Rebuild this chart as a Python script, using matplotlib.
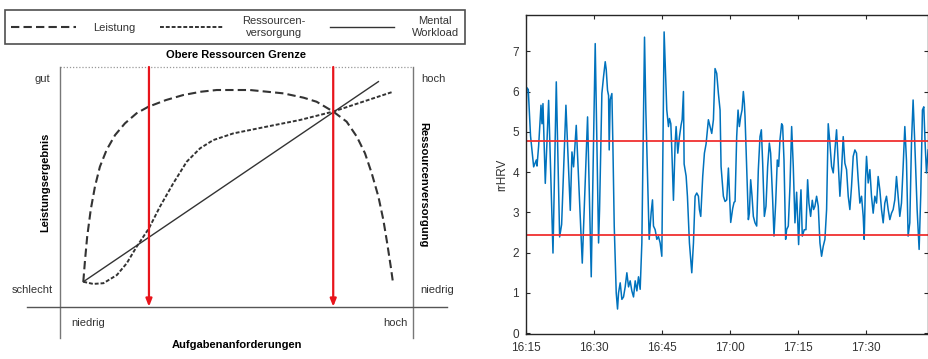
import matplotlib
matplotlib.use("Agg")
import matplotlib.pyplot as plt

plt.rcParams['font.family'] = ['Liberation Sans', 'DejaVu Sans']

# ---------------- left diagram data (normalised: demand 0..1, level 0..1) -------------
leistung_x = [0.066, 0.071, 0.077, 0.087, 0.099, 0.113, 0.132, 0.156, 0.184, 0.217, 0.250,
              0.300, 0.349, 0.400, 0.444, 0.538, 0.633, 0.690, 0.727, 0.774, 0.812, 0.841,
              0.864, 0.883, 0.902, 0.916, 0.927, 0.937, 0.943]
leistung_y = [0.104, 0.196, 0.292, 0.404, 0.501, 0.584, 0.654, 0.716, 0.765, 0.807, 0.834,
              0.862, 0.883, 0.897, 0.904, 0.904, 0.890, 0.872, 0.855, 0.814, 0.772, 0.709,
              0.640, 0.557, 0.459, 0.362, 0.264, 0.167, 0.104]
ressourcen_x = [0.066, 0.094, 0.123, 0.161, 0.189, 0.217, 0.252, 0.283, 0.321, 0.359, 0.397,
                0.434, 0.491, 0.585, 0.680, 0.774, 0.944]
ressourcen_y = [0.104, 0.095, 0.098, 0.132, 0.181, 0.250, 0.327, 0.417, 0.515, 0.605, 0.661,
                0.695, 0.723, 0.751, 0.779, 0.814, 0.897]
workload_x = [0.066, 0.902]
workload_y = [0.104, 0.939]
grenzen_x = [0.252, 0.774]
legend_labels = ["Leistung", "Ressourcen-\nversorgung", "Mental\nWorkload"]

# ---------------- right chart data -------------------------------------------------------
minutes = [0.0, 0.15, 0.5, 1.0, 1.69, 2.28, 2.43, 2.79, 3.31, 3.53, 3.75, 4.26, 5.0, 5.96,
           6.69, 7.43, 7.87, 8.82, 9.78, 10.15, 10.51, 11.10, 12.43, 13.60, 14.41, 15.29,
           15.66, 16.03, 16.25, 16.76, 17.13, 17.50, 17.72, 18.01, 18.24, 18.38, 18.60,
           18.97, 19.19, 19.49, 19.93, 20.22, 20.44, 20.81, 21.18, 21.54, 21.91, 22.28,
           22.65, 23.01, 23.38, 23.75, 24.12, 24.49, 24.85, 25.22, 25.59, 25.96, 26.18,
           26.47, 26.84, 27.21, 27.65, 27.94, 28.16, 28.53, 28.90, 29.26, 29.63, 30.00,
           30.51, 31.10, 31.47, 31.69, 31.99, 32.21, 32.57, 32.94, 33.16, 33.53, 33.90,
           34.26, 34.49, 34.78, 34.93, 35.37, 35.66, 36.10, 36.62, 36.99, 37.35, 37.72,
           38.09, 38.31, 38.60, 39.04, 39.41, 39.78, 40.29, 40.66, 41.03, 41.40, 41.76,
           42.13, 42.50, 42.87, 43.09, 43.60, 43.97, 44.34, 44.71, 45.22, 45.66, 45.96,
           46.18, 46.54, 46.84, 47.13, 47.43, 47.72, 48.01, 48.24, 48.38, 48.75, 49.12,
           49.34, 49.63, 49.93, 50.22, 50.59, 50.96, 51.32, 51.69, 51.99, 52.28, 52.65,
           53.01, 53.38, 53.75, 54.04, 54.49, 54.78, 55.15, 55.51, 55.81, 56.10, 56.47,
           56.69, 56.99, 57.35, 57.57, 57.94, 58.31, 58.68, 59.04, 59.41, 59.78, 60.22,
           60.51, 60.74, 61.03, 61.47, 61.84, 62.21, 62.50, 62.87, 63.24, 63.53, 63.82,
           64.19, 64.56, 64.93, 65.29, 65.66, 66.03, 66.40, 66.76, 67.13, 67.50, 67.87,
           68.24, 68.60, 68.97, 69.34, 69.71, 70.07, 70.44, 70.81, 71.18, 71.54, 71.91,
           72.28, 72.65, 73.01, 73.38, 73.75, 74.12, 74.49, 74.71, 75.00, 75.22, 75.59,
           75.96, 76.32, 76.69, 77.06, 77.43, 77.79, 78.16, 78.53, 78.90, 79.26, 79.63,
           80.00, 80.37, 80.74, 81.10, 81.47, 81.84, 82.21, 82.57, 82.94, 83.31, 83.68,
           84.04, 84.41, 84.78, 85.15, 85.51, 85.88, 86.40, 86.84, 87.21, 87.57, 87.87,
           88.16, 88.46, 88.82]
rrhrv = [4.9, 6.1, 6.05, 4.9, 4.13, 4.3, 4.15, 4.65, 5.66, 5.2, 5.7, 3.72, 5.78, 1.99,
         6.24, 2.39, 2.7, 5.66, 3.05, 4.5, 4.13, 5.16, 1.74, 5.37, 1.4, 7.19,
         4.72, 2.24, 3.07, 5.95, 6.37, 6.74, 6.55, 6.03, 5.9, 4.55, 5.8,
         5.95, 4.7, 2.66, 1.0, 0.6, 1.0, 1.25, 0.84, 0.9, 1.15, 1.5,
         1.15, 1.3, 1.05, 0.9, 1.3, 1.05, 1.4, 1.09, 2.24, 5.54, 7.35,
         5.54, 3.9, 2.33, 3.0, 3.31, 2.66, 2.57, 2.33, 2.4, 2.24, 1.91,
         7.48, 5.54, 5.13, 5.33, 5.2, 4.55, 3.3, 4.7, 5.13, 4.47, 4.88,
         5.17, 5.3, 6.0, 4.2, 3.9, 3.4, 2.24, 1.5, 2.24, 3.4, 3.48,
         3.4, 3.07, 2.9, 3.9, 4.47, 4.7, 5.3, 5.13, 4.96, 5.3, 6.57,
         6.45, 5.95, 5.54, 4.14, 3.4, 3.27, 3.31, 4.1, 2.75, 3.1, 3.25,
         3.27, 4.88, 5.54, 5.13, 5.38, 5.54, 6.0, 5.7, 5.38, 4.14, 2.82,
         2.98, 3.81, 3.4, 2.9, 2.74, 2.66, 4.06, 4.88, 5.05, 4.22, 2.9,
         3.15, 4.14, 4.72, 4.47, 3.3, 2.41, 3.23, 4.3, 4.14, 4.8, 5.2,
         5.15, 4.3, 2.33, 2.57, 2.66, 3.65, 5.13, 4.14, 2.74, 3.5, 2.2,
         3.07, 3.56, 2.41, 2.57, 2.57, 3.81, 3.23, 2.9, 3.3, 3.07, 3.15,
         3.4, 3.15, 2.24, 1.91, 2.16, 2.33, 3.07, 5.2, 4.72, 4.14, 3.98,
         4.55, 5.05, 4.22, 3.4, 4.06, 4.88, 4.22, 4.06, 3.4, 3.07, 3.65,
         4.39, 4.55, 4.47, 3.81, 3.23, 3.4, 2.9, 2.33, 3.81, 4.39, 3.73,
         4.06, 3.4, 2.98, 3.4, 3.23, 3.89, 3.56, 3.07, 2.74, 3.23, 3.4,
         3.07, 2.82, 2.98, 3.07, 3.31, 3.89, 3.4, 2.9, 3.23, 4.14, 5.13,
         4.3, 2.41, 2.74, 4.72, 5.79, 4.72, 3.07, 2.08, 3.48, 5.54, 5.62,
         4.72, 3.98, 4.55]
thresholds = [4.78, 2.45]
tick_minutes = [0, 15, 30, 45, 60, 75]
tick_labels = ["16:15", "16:30", "16:45", "17:00", "17:15", "17:30"]

W, H = 929, 359
fig = plt.figure(figsize=(W / 100, H / 100), dpi=100)
fig.patch.set_facecolor('white')

# ---------------- left diagram ----------------
x0, x1, ytop, ybot = 60, 413, 67, 306.7
axL = fig.add_axes([x0 / W, (H - ybot) / H, (x1 - x0) / W, (ybot - ytop) / H])
axL.set_xlim(0, 1)
axL.set_ylim(0, 1)
axL.axis('off')
gray = '#333333'
l1, = axL.plot(leistung_x, leistung_y, color=gray, lw=1.5, dashes=(4.0, 2.0))
l2, = axL.plot(ressourcen_x, ressourcen_y, color=gray, lw=1.4, dashes=(2.0, 1.0))
l3, = axL.plot(workload_x, workload_y, color=gray, lw=1.0)

axL.plot([0, 1], [1, 1], color='#999999', lw=0.9, ls=(0, (1, 1.5)), clip_on=False)
axL.plot([0, 0], [-0.13, 1], color='#777777', lw=1.0, clip_on=False)
axL.plot([1, 1], [-0.13, 1], color='#777777', lw=1.0, clip_on=False)
axL.plot([-0.093, 1.096], [0, 0], color='#555555', lw=1.0, clip_on=False)

for gx in grenzen_x:
    axL.annotate('', xy=(gx, 0.0), xytext=(gx, 1.0),
                 arrowprops=dict(arrowstyle='-|>,head_length=0.45,head_width=0.18',
                                 color='#e8141b', lw=1.6, shrinkA=0, shrinkB=0))

fs = 8
tc = '#333333'
axL.text(0.5, 1.03, "Obere Ressourcen Grenze", ha='center', va='bottom', fontsize=fs,
         fontweight='bold', transform=axL.transAxes)
axL.text(-0.028, 0.95, "gut", ha='right', va='center', fontsize=fs, color=tc)
axL.text(-0.02, 0.07, "schlecht", ha='right', va='center', fontsize=fs, color=tc)
axL.text(1.022, 0.95, "hoch", ha='left', va='center', fontsize=fs, color=tc)
axL.text(1.022, 0.07, "niedrig", ha='left', va='center', fontsize=fs, color=tc)
axL.text(0.08, -0.07, "niedrig", ha='center', va='center', fontsize=fs, color=tc)
axL.text(0.95, -0.07, "hoch", ha='center', va='center', fontsize=fs, color=tc)
axL.text(0.5, -0.16, "Aufgabenanforderungen", ha='center', va='center', fontsize=fs,
         fontweight='bold')
axL.text(-0.042, 0.52, "Leistungsergebnis", ha='center', va='center', fontsize=fs,
         fontweight='bold', rotation=90)
axL.text(1.03, 0.51, "Ressourcenversorgung", ha='center', va='center', fontsize=fs,
         fontweight='bold', rotation=-90)

leg = fig.legend([l1, l2, l3], legend_labels, loc='center', ncol=3, mode='expand',
                 bbox_to_anchor=(5 / W, (H - 47) / H, 460 / W, 40 / H),
                 fontsize=fs, frameon=True, fancybox=False, edgecolor='#222222',
                 handlelength=5.8, handletextpad=1.6, borderpad=0.55, borderaxespad=0,
                 columnspacing=1.0)
leg.get_frame().set_linewidth(1.2)
for t in leg.get_texts():
    t.set_multialignment('center')
    t.set_color(tc)

# ---------------- right chart ----------------
rx0, rx1, rtop, rbot = 526, 928, 15, 334
axR = fig.add_axes([rx0 / W, (H - rbot) / H, (rx1 - rx0) / W, (rbot - rtop) / H])
axR.plot(minutes, rrhrv, color='#0072BD', lw=1.1)
for th in thresholds:
    axR.axhline(th, color='#f03030', lw=1.3)
axR.set_xlim(0, 88.8)
axR.set_ylim(-0.02, 7.9)
axR.set_xticks(tick_minutes)
axR.set_xticklabels(tick_labels)
axR.set_yticks(range(0, 8))
axR.tick_params(direction='in', top=True, right=True, length=3, width=0.8,
                color='#262626', labelcolor='#333333', labelsize=8.5)
axR.tick_params(axis='x', pad=6)
axR.tick_params(axis='y', pad=5)
for s in axR.spines.values():
    s.set_color('#262626')
    s.set_linewidth(1.0)
axR.set_ylabel("rrHRV", fontsize=8.5, color='#333333', labelpad=3)

fig.savefig("out.png", dpi=100)
